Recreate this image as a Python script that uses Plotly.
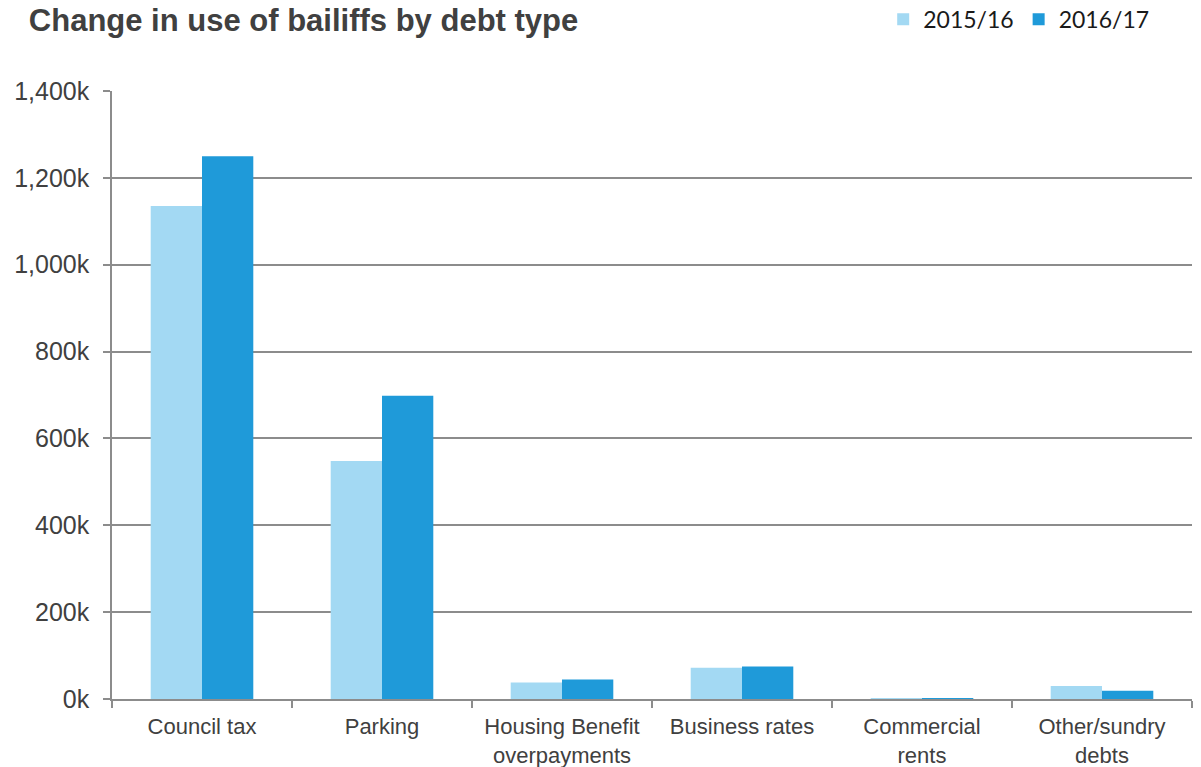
import plotly.graph_objects as go

categories = ["Council tax", "Parking", "Housing Benefit<br>overpayments",
              "Business rates", "Commercial<br>rents", "Other/sundry<br>debts"]
values_2015_16 = [1135000, 548000, 38000, 72000, 2000, 30000]
values_2016_17 = [1250000, 698000, 45000, 75000, 2000, 19000]

tick_vals = [0, 200000, 400000, 600000, 800000, 1000000, 1200000, 1400000]
tick_text = ["0k", "200k", "400k", "600k", "800k", "1,000k", "1,200k", "1,400k"]

fig = go.Figure()
fig.add_trace(go.Bar(name="2015/16", x=categories, y=values_2015_16,
                     marker=dict(color="#A3D9F3", line=dict(width=0))))
fig.add_trace(go.Bar(name="2016/17", x=categories, y=values_2016_17,
                     marker=dict(color="#1F9AD9", line=dict(width=0))))

fig.update_layout(
    width=1201, height=767,
    barmode="group", bargap=0.43, bargroupgap=0,
    plot_bgcolor="white", paper_bgcolor="white",
    margin=dict(l=112, r=9, t=91, b=68, autoexpand=False),
    font=dict(family="Liberation Sans, Arial", size=22, color="#404040"),
    title=dict(text="<b>Change in use of bailiffs by debt type</b>",
               x=0.024, xanchor="left", y=1.0, yanchor="top", pad=dict(t=9),
               font=dict(family="Liberation Sans, Arial", size=31, color="#404040")),
    legend=dict(orientation="h", x=0.965, xanchor="right",
                yref="container", y=0.975, yanchor="middle",
                font=dict(family="Lato, Carlito, sans-serif", size=23, color="#1a1a1a"),
                itemwidth=30, traceorder="normal", bgcolor="rgba(0,0,0,0)"),
    showlegend=True,
)
fig.update_xaxes(showline=True, linecolor="#8c8c8c", linewidth=1.5,
                 ticks="outside", tickson="boundaries", ticklen=7,
                 tickcolor="#8c8c8c", tickwidth=1.5,
                 tickfont=dict(size=22, color="#404040"), showgrid=False,
                 ticklabelstandoff=7)
fig.update_yaxes(range=[0, 1400000], tickvals=tick_vals, ticktext=tick_text,
                 showline=True, linecolor="#8c8c8c", linewidth=1.5,
                 ticks="outside", ticklen=7, tickcolor="#8c8c8c", tickwidth=1.5,
                 showgrid=True, gridcolor="#8c8c8c", gridwidth=1.5,
                 zeroline=False, tickfont=dict(size=25, color="#404040"),
                 ticklabelstandoff=9)

fig.write_html("out.html")
